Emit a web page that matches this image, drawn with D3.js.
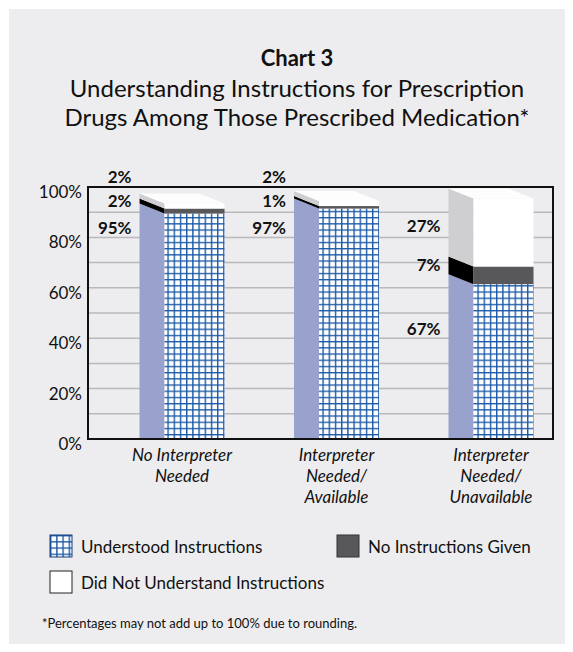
<!DOCTYPE html>
<html>
<head>
<meta charset="utf-8">
<script src="https://cdn.jsdelivr.net/npm/d3@7"></script>
<style>
	body { margin: 0; background: #fff; }
	svg { display: block; font-family: Lato, "Noto Sans", sans-serif; }
</style>
</head>
<body>
<script>
// chart data
var categories = ["No Interpreter Needed", "Interpreter Needed/Available", "Interpreter Needed/Unavailable"];
var categoryLines = [["No Interpreter", "Needed"], ["Interpreter", "Needed/", "Available"], ["Interpreter", "Needed/", "Unavailable"]];
var understood = [95, 97, 67];
var noInstructions = [2, 1, 7];
var notUnderstood = [2, 2, 27];
var yTicks = [0, 20, 40, 60, 80, 100];

// where each value label sits, in axis units
var labelUnderstood = [83.7, 83.7, 43.7];
var labelNoInstructions = [94.4, 94.4, 69];
var labelNotUnderstood = [104, 104, 84.5];

var W = 573, H = 652;
var plot = { left: 88, right: 553, top: 187, bottom: 439 };
var DEPTH_X = 25, DEPTH_Y = 10, SINK = 4, FRONT_W = 60;

var svg = d3.select("body").append("svg").attr("width", W).attr("height", H);

var defs = svg.append("defs");
var pat = defs.append("pattern")
	.attr("id", "grid")
	.attr("patternUnits", "userSpaceOnUse")
	.attr("width", 6.2).attr("height", 6.2);
pat.append("rect").attr("width", 6.2).attr("height", 6.2).attr("fill", "#fff");
pat.append("path")
	.attr("d", "M0,0.7 H6.2 M0.7,0 V6.2")
	.attr("stroke", "#1b5aa7")
	.attr("stroke-width", 1.4);

defs.append("clipPath").attr("id", "plotClip")
	.append("rect").attr("x", plot.left).attr("y", 0)
	.attr("width", plot.right - plot.left).attr("height", plot.bottom);

// panel
svg.append("rect").attr("x", 9).attr("y", 9).attr("width", 556).attr("height", 635).attr("fill", "#ededef");

// title
var title = svg.append("text").attr("text-anchor", "middle").attr("fill", "#111");
title.append("tspan").attr("x", 297).attr("y", 66).attr("font-weight", "bold").attr("font-size", 22).text("Chart 3");
title.append("tspan").attr("x", 297).attr("y", 97).attr("font-size", 24).text("Understanding Instructions for Prescription");
title.append("tspan").attr("x", 297).attr("y", 126).attr("font-size", 24).text("Drugs Among Those Prescribed Medication*");

var x = d3.scaleBand().domain(categories)
	.range([plot.left + 16, plot.right + 16])
	.paddingInner(0.45).paddingOuter(0.23);
var y = d3.scaleLinear().domain([0, 100]).range([plot.bottom, plot.top]);

function yBack(v) { return y(v) + SINK; }
function yFront(v) { return y(v) + SINK + DEPTH_Y; }

// gridlines
svg.append("g").selectAll("line")
	.data(d3.range(10, 100, 10))
	.join("line")
	.attr("x1", plot.left).attr("x2", plot.right)
	.attr("y1", function(d) { return y(d); })
	.attr("y2", function(d) { return y(d); })
	.attr("stroke", "#b9b9bc").attr("stroke-width", 1.5);

// stacked segments
var series = [
	{ key: "understood", values: understood, side: "#99a2cc", front: "url(#grid)", labels: labelUnderstood },
	{ key: "noInstructions", values: noInstructions, side: "#000", front: "#58585b", labels: labelNoInstructions },
	{ key: "notUnderstood", values: notUnderstood, side: "#cfcfd1", front: "#fff", labels: labelNotUnderstood }
];

var bars = svg.append("g").attr("clip-path", "url(#plotClip)");

categories.forEach(function(c, i) {
	var bx = x(c);
	var base = 0;
	series.forEach(function(s) {
		var v0 = base, v1 = base + s.values[i];
		base = v1;
		bars.append("path")
			.attr("d", "M" + bx + "," + yBack(v1) + " L" + (bx + DEPTH_X) + "," + yFront(v1) +
				" L" + (bx + DEPTH_X) + "," + yFront(v0) + " L" + bx + "," + yBack(v0) + "Z")
			.attr("fill", s.side);
		bars.append("rect")
			.attr("x", bx + DEPTH_X).attr("y", yFront(v1))
			.attr("width", FRONT_W).attr("height", yFront(v0) - yFront(v1))
			.attr("fill", s.front);
	});
	// top face
	bars.append("path")
		.attr("d", "M" + bx + "," + yBack(base) + " L" + (bx + FRONT_W) + "," + yBack(base) +
			" L" + (bx + FRONT_W + DEPTH_X) + "," + yFront(base) + " L" + (bx + DEPTH_X) + "," + yFront(base) + "Z")
		.attr("fill", "#fdfdfd");
});

// value labels
categories.forEach(function(c, i) {
	series.forEach(function(s) {
		svg.append("text")
			.attr("x", x(c) - 8)
			.attr("y", y(s.labels[i]) + 6)
			.attr("text-anchor", "end")
			.attr("font-weight", "bold")
			.attr("font-size", 17)
			.attr("fill", "#111")
			.text(s.values[i] + "%");
	});
});

// frame
svg.append("rect")
	.attr("x", plot.left).attr("y", plot.top)
	.attr("width", plot.right - plot.left).attr("height", plot.bottom - plot.top)
	.attr("fill", "none").attr("stroke", "#111").attr("stroke-width", 2);

// y tick labels
svg.append("g").selectAll("text")
	.data(yTicks)
	.join("text")
	.attr("x", 82)
	.attr("y", function(d) { return y(d) + 11; })
	.attr("text-anchor", "end")
	.attr("font-size", 17)
	.attr("fill", "#111")
	.text(function(d) { return d + "%"; });

// category labels
categories.forEach(function(c, i) {
	var t = svg.append("text")
		.attr("text-anchor", "middle")
		.attr("font-style", "italic")
		.attr("font-size", 17)
		.attr("fill", "#111");
	categoryLines[i].forEach(function(line, j) {
		t.append("tspan")
			.attr("x", x(c) + (DEPTH_X + FRONT_W) / 2)
			.attr("y", 461 + j * 21)
			.text(line);
	});
});

// legend
var legend = [
	{ label: "Understood Instructions", fill: "url(#grid)", stroke: "#1b3f7a", x: 50, y: 535 },
	{ label: "No Instructions Given", fill: "#58585b", stroke: "#333", x: 337, y: 535 },
	{ label: "Did Not Understand Instructions", fill: "#fff", stroke: "#222", x: 50, y: 571 }
];
var lg = svg.append("g").selectAll("g").data(legend).join("g")
	.attr("transform", function(d) { return "translate(" + d.x + "," + d.y + ")"; });
lg.append("rect").attr("width", 22).attr("height", 22)
	.attr("fill", function(d) { return d.fill; })
	.attr("stroke", function(d) { return d.stroke; }).attr("stroke-width", 1);
lg.append("text").attr("x", 31).attr("y", 18).attr("font-size", 17).attr("fill", "#111")
	.text(function(d) { return d.label; });

// footnote
svg.append("text")
	.attr("x", 42).attr("y", 628)
	.attr("font-size", 13)
	.attr("fill", "#111")
	.text("*Percentages may not add up to 100% due to rounding.");
</script>
</body>
</html>
